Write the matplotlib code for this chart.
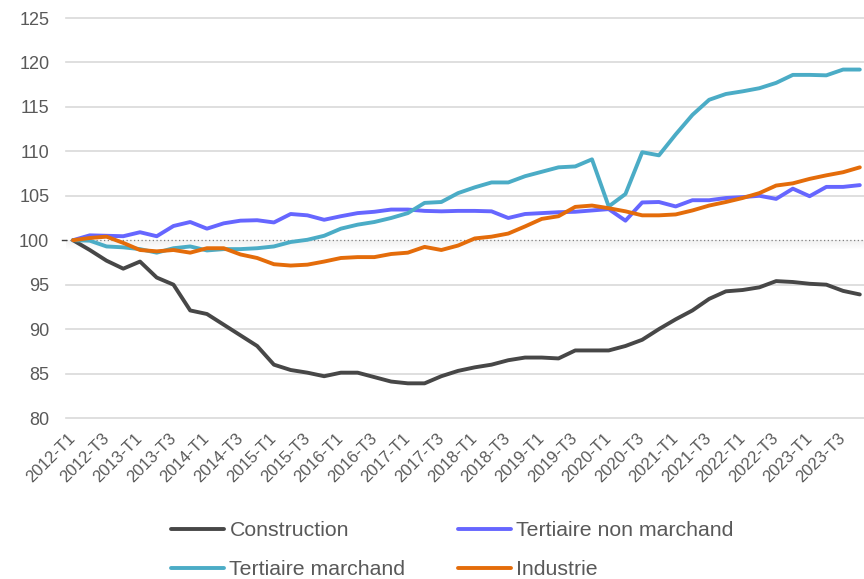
import matplotlib
matplotlib.use("Agg")
import matplotlib.pyplot as plt
import numpy as np

plt.rcParams['font.family'] = ['Liberation Sans', 'DejaVu Sans']

categories = [f"{y}-T{q}" for y in range(2012, 2024) for q in range(1, 5)]

construction = [100, 98.9, 97.7, 96.8, 97.6, 95.8, 95.0, 92.1, 91.7, 90.5, 89.3, 88.1,
                86.0, 85.4, 85.1, 84.7, 85.1, 85.1, 84.6, 84.1, 83.9, 83.9, 84.7, 85.3,
                85.7, 86.0, 86.5, 86.8, 86.8, 86.7, 87.6, 87.6, 87.6, 88.1, 88.8, 90.0,
                91.1, 92.1, 93.4, 94.25, 94.4, 94.7, 95.4, 95.3, 95.1, 95.0, 94.3, 93.9]

tertiaire_non_marchand = [100, 100.55, 100.5, 100.45, 100.9, 100.45, 101.6, 102.05, 101.3, 101.9, 102.2, 102.25,
                          102.0, 102.95, 102.8, 102.3, 102.7, 103.05, 103.2, 103.45, 103.45, 103.3, 103.25, 103.3,
                          103.3, 103.25, 102.5, 102.95, 103.05, 103.15, 103.2, 103.35, 103.5, 102.2, 104.25, 104.3,
                          103.8, 104.5, 104.5, 104.75, 104.85, 105.0, 104.65, 105.8, 104.95, 106.0, 106.0, 106.2]

tertiaire_marchand = [100, 99.95, 99.3, 99.2, 99.0, 98.6, 99.1, 99.3, 98.85, 99.0, 99.0, 99.1,
                      99.3, 99.8, 100.05, 100.5, 101.3, 101.75, 102.05, 102.5, 103.05, 104.2, 104.3, 105.3,
                      105.95, 106.5, 106.5, 107.2, 107.7, 108.2, 108.3, 109.1, 103.8, 105.2, 109.9, 109.55,
                      111.9, 114.1, 115.8, 116.45, 116.75, 117.1, 117.7, 118.6, 118.6, 118.55, 119.2, 119.2]

industrie = [100, 100.25, 100.4, 99.7, 98.9, 98.75, 98.9, 98.6, 99.1, 99.1, 98.4, 98.0,
             97.3, 97.15, 97.25, 97.6, 98.0, 98.1, 98.1, 98.45, 98.6, 99.25, 98.9, 99.4,
             100.2, 100.4, 100.75, 101.55, 102.4, 102.7, 103.75, 103.9, 103.6, 103.25, 102.8, 102.8,
             102.9, 103.35, 103.9, 104.3, 104.75, 105.3, 106.15, 106.4, 106.9, 107.3, 107.65, 108.2]

series_names = ["Construction", "Tertiaire non marchand", "Tertiaire marchand", "Industrie"]
series_values = [construction, tertiaire_non_marchand, tertiaire_marchand, industrie]
series_colors = ["#474747", "#6666FF", "#4BACC6", "#E46C0A"]

yticks = [80, 85, 90, 95, 100, 105, 110, 115, 120, 125]

W, H = 864, 579
fig = plt.figure(figsize=(W / 100, H / 100), dpi=100)
ax = fig.add_axes([66 / W, (H - 418) / H, 798 / W, 400 / H])

ax.set_ylim(80, 125)
ax.set_xlim(-0.42, 47.25)

# gridlines (except baseline at 100)
for v in yticks:
    if v != 100:
        ax.axhline(v, color="#D9D9D9", lw=1.2, zorder=1, clip_on=False)

# baseline at 100: dotted with soft shadow
grad = np.zeros((20, 1, 4))
grad[..., :3] = 0.55
grad[:, 0, 3] = np.linspace(0.12, 0.0, 20)
ax.imshow(grad, extent=[-0.42, 47.25, 98.9, 100.0], aspect="auto", zorder=1, origin="upper",
          interpolation="bilinear")
ax.axhline(100, color="#7F7F7F", lw=0.9, ls=(0, (1, 2)), zorder=2)
ax.plot([-0.65, -0.42], [100, 100], color="#404040", lw=1.0, clip_on=False, zorder=2)

lines = {}
for name, vals, col in zip(series_names, series_values, series_colors):
    ln, = ax.plot(categories, vals, color=col, lw=2.8, solid_capstyle="round",
                  solid_joinstyle="round", zorder=3, label=name, clip_on=False)
    lines[name] = ln

ax.set_xlim(-0.42, 47.25)
ax.set_ylim(80, 125)

for s in ax.spines.values():
    s.set_visible(False)

ax.set_yticks(yticks)
ax.set_yticklabels([str(v) for v in yticks])
ax.tick_params(axis="y", length=0, pad=12, labelsize=13, labelcolor="#595959")

ax.set_xticks(range(0, len(categories), 2))
ax.set_xticklabels(categories[::2])
ax.tick_params(axis="x", length=0, pad=13, labelsize=12, labelcolor="#595959")
for lbl in ax.get_xticklabels():
    lbl.set_rotation(45)
    lbl.set_ha("right")
    lbl.set_va("center")
    lbl.set_rotation_mode("anchor")

order = ["Construction", "Tertiaire marchand", "Tertiaire non marchand", "Industrie"]
leg = fig.legend([lines[n] for n in order], order, loc="upper left",
                 bbox_to_anchor=(171 / W, (H - 521) / H), bbox_transform=fig.transFigure,
                 ncol=2, frameon=False, fontsize=15.3, handlelength=2.5, handletextpad=0.25,
                 columnspacing=2.45, labelspacing=0.95, borderpad=0, borderaxespad=0)
for t in leg.get_texts():
    t.set_color("#595959")

fig.savefig("out.png", dpi=100)
